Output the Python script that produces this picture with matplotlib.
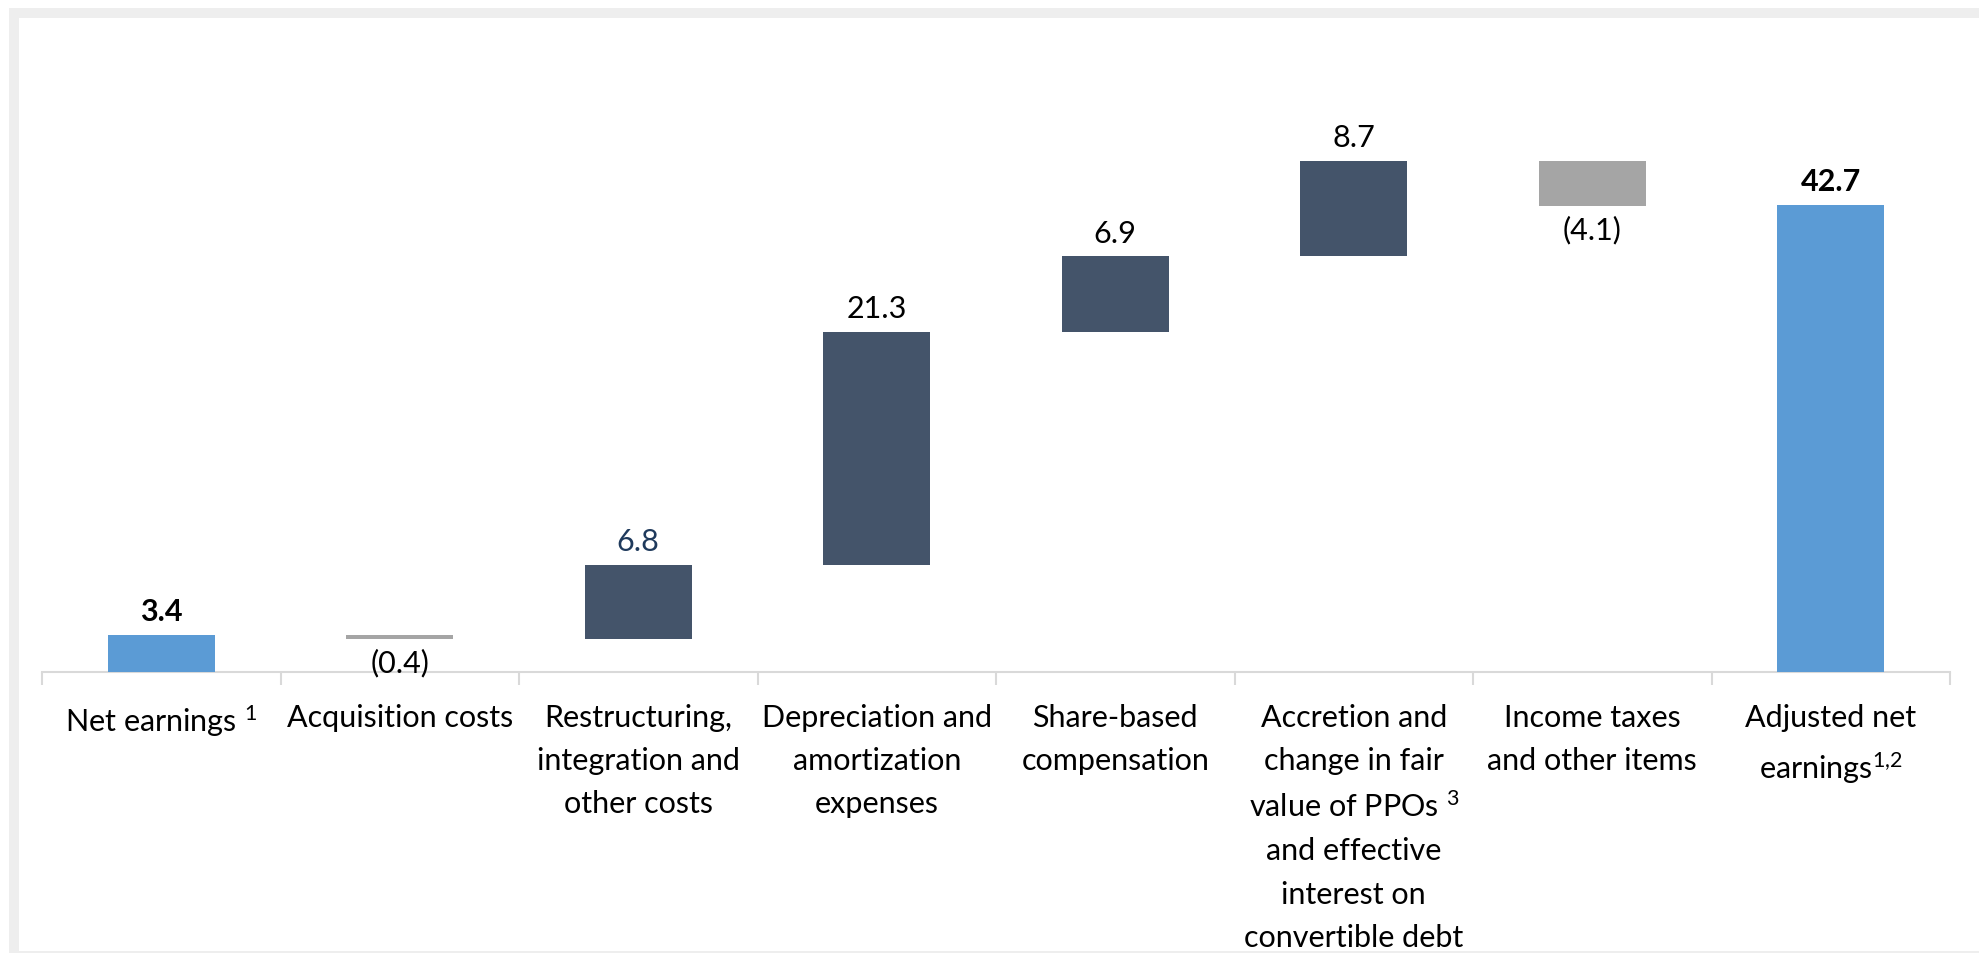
# Waterfall chart: net earnings to adjusted net earnings bridge
import numpy as np
import matplotlib.pyplot as plt
import matplotlib as mpl
from matplotlib.patches import Rectangle

mpl.rcParams['font.family'] = ['Lato', 'DejaVu Sans']
mpl.rcParams['mathtext.fontset'] = 'custom'
mpl.rcParams['mathtext.rm'] = 'Lato'
mpl.rcParams['mathtext.it'] = 'Lato'
mpl.rcParams['mathtext.bf'] = 'Lato:bold'

categories = ["Net earnings $^{1}$", "Acquisition costs",
              "Restructuring,\nintegration and\nother costs",
              "Depreciation and\namortization\nexpenses",
              "Share-based\ncompensation",
              "Accretion and\nchange in fair\nvalue of PPOs $^{3}$\nand effective\ninterest on\nconvertible debt",
              "Income taxes\nand other items",
              "Adjusted net\nearnings$^{1{,}2}$"]
values = [3.4, -0.4, 6.8, 21.3, 6.9, 8.7, -4.1, 42.7]
kinds = ['total', 'neg', 'pos', 'pos', 'pos', 'pos', 'neg', 'total']
value_labels = ['3.4', '(0.4)', '6.8', '21.3', '6.9', '8.7', '(4.1)', '42.7']

colours = {'total': '#5B9BD5', 'pos': '#44546A', 'neg': '#A5A5A5'}
axis_grey = '#D9D9D9'

# bottoms of the floating bars
bottoms = []
running = 0
for v, k in zip(values, kinds):
    if k == 'total':
        bottoms.append(0)
        running = v
    else:
        bottoms.append(running if v > 0 else running + v)
        running += v
heights = [abs(v) for v in values]

W, H = 1979, 954
fig = plt.figure(figsize=(W / 100, H / 100), dpi=100)

# grey frame round the chart area
fig.patches.append(Rectangle((9 / W, 0), 1, (H - 9) / H, transform=fig.transFigure,
                             facecolor='#EEEEEE', edgecolor='none', zorder=-2))
fig.patches.append(Rectangle((19 / W, 2 / H), 1, (H - 21) / H, transform=fig.transFigure,
                             facecolor='white', edgecolor='none', zorder=-1))

ax = fig.add_axes([42 / W, (H - 673) / H, 1908 / W, 55 * 10.94 / H])
ax.patch.set_alpha(0)

x = np.arange(len(values))
ax.bar(x, heights, bottom=bottoms, width=0.45,
       color=[colours[k] for k in kinds], zorder=3)

for i, (v, k) in enumerate(zip(values, kinds)):
    colour = '#1F3A5C' if i == 2 else 'black'
    weight = 'bold' if k == 'total' else 'normal'
    if v >= 0:
        ax.annotate(value_labels[i], (i, bottoms[i] + heights[i]), xytext=(0, 7),
                    textcoords='offset points', ha='center', va='bottom',
                    fontsize=22, color=colour, fontweight=weight)
    else:
        ax.annotate(value_labels[i], (i, bottoms[i]), xytext=(0, -6),
                    textcoords='offset points', ha='center', va='top',
                    fontsize=22, color=colour, fontweight=weight)

ax.set_xlim(-0.5, len(values) - 0.5)
ax.set_ylim(0, 55)
ax.set_yticks([])

# tick marks between categories, labels at centres
ax.set_xticks(np.arange(len(values) + 1) - 0.5)
ax.set_xticklabels([])
ax.set_xticks(x, minor=True)
ax.set_xticklabels(categories, minor=True, fontsize=22, linespacing=1.66)
ax.tick_params(axis='x', which='major', direction='out', length=9, width=1.5, color=axis_grey)
ax.tick_params(axis='x', which='minor', length=0, pad=22)

ax.spines[['top', 'right', 'left']].set_visible(False)
ax.spines['bottom'].set_color(axis_grey)
ax.spines['bottom'].set_linewidth(1.5)

fig.savefig('out.png', dpi=100)
